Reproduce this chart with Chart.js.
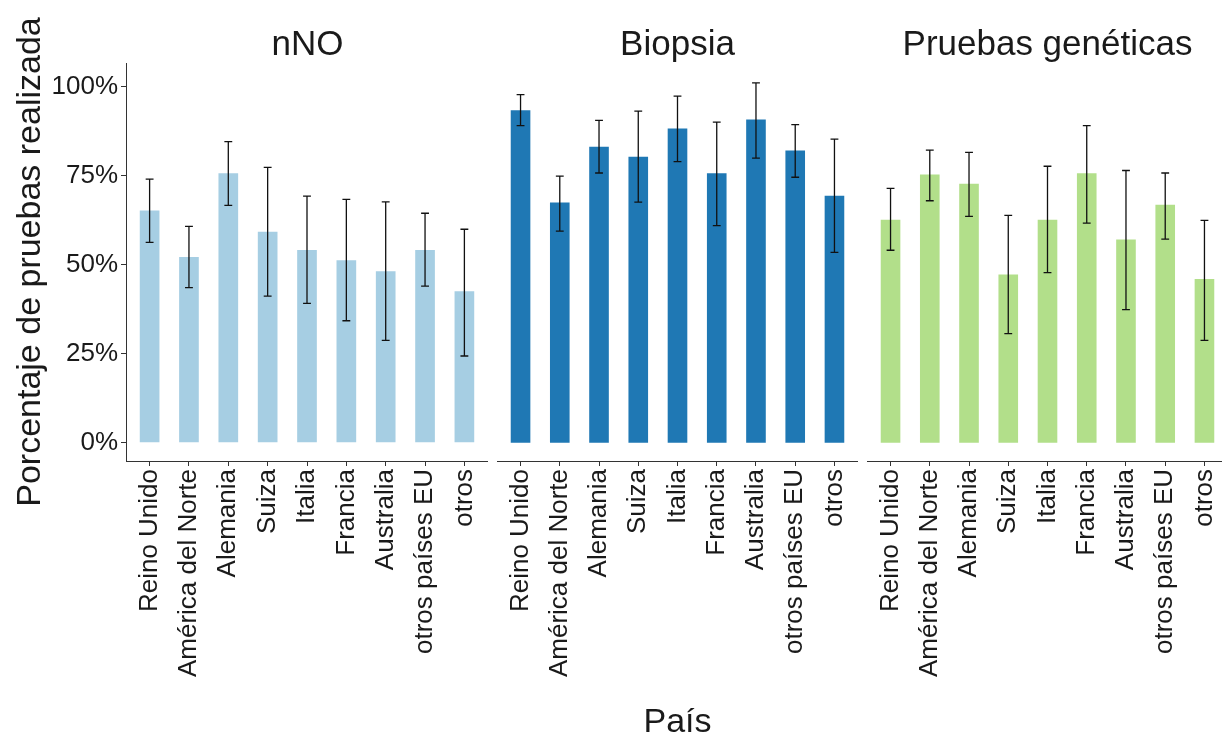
<!DOCTYPE html>
<html>
<head>
<meta charset="utf-8">
<script src="https://cdn.jsdelivr.net/npm/chart.js@4.4.1/dist/chart.umd.min.js"></script>
<style>
	html, body { margin: 0; padding: 0; background: #fff; }
	body { width: 1222px; height: 740px; position: relative; overflow: hidden; }
	.panel { position: absolute; top: 0; height: 740px; }
	.strip { position: absolute; top: 25px; width: 361px; text-align: center;
		font-family: 'Liberation Sans', Arial, sans-serif; font-size: 35px; line-height: 35px; color: #1a1a1a; }
</style>
</head>
<body>
<div class="panel" style="left:0; width:488px;"><canvas id="canvasNNO"></canvas></div>
<div class="panel" style="left:497px; width:361px;"><canvas id="canvasBiopsia"></canvas></div>
<div class="panel" style="left:867px; width:361px;"><canvas id="canvasGenetica"></canvas></div>
<div class="strip" style="left:127px;">nNO</div>
<div class="strip" style="left:497px;">Biopsia</div>
<div class="strip" style="left:867px;">Pruebas genéticas</div>

<script>
"use strict";

var categories = ['Reino Unido', 'América del Norte', 'Alemania', 'Suiza', 'Italia', 'Francia', 'Australia', 'otros países EU', 'otros'];
var yTicks = [0, 25, 50, 75, 100];

// nNO
var nnoValues = [65.3, 52.2, 75.7, 59.3, 54.2, 51.3, 48.2, 54.2, 42.6];
var nnoLow = [56.3, 43.6, 66.7, 41.2, 39.2, 34.3, 28.8, 44.0, 24.4];
var nnoHigh = [74.1, 60.8, 84.6, 77.4, 69.3, 68.4, 67.7, 64.5, 60.0];

// Biopsia
var biopsiaValues = [93.4, 67.5, 83.2, 80.4, 88.3, 75.7, 90.8, 82.1, 69.4];
var biopsiaLow = [89.1, 59.5, 75.8, 67.6, 79.0, 61.0, 80.0, 74.6, 53.5];
var biopsiaHigh = [97.8, 74.9, 90.6, 93.2, 97.4, 90.1, 101.1, 89.4, 85.3];

// Pruebas genéticas
var geneticaValues = [62.7, 75.4, 72.8, 47.3, 62.7, 75.7, 57.1, 66.9, 46.0];
var geneticaLow = [54.1, 68.0, 63.6, 30.7, 47.8, 61.7, 37.4, 57.2, 28.8];
var geneticaHigh = [71.5, 82.2, 81.6, 63.9, 77.7, 89.1, 76.5, 75.8, 62.5];

var fontFamily = "'Liberation Sans', Arial, sans-serif";
var textColor = '#1a1a1a';
var axisColor = '#333333';

// error bars drawn with the chart's own scales
var errorBarPlugin = {
	id: 'errorBars',
	afterDatasetsDraw: function (chart, args, opts) {
		var ctx = chart.ctx;
		var xs = chart.scales.x;
		var ys = chart.scales.y;
		ctx.save();
		ctx.strokeStyle = '#111';
		ctx.lineWidth = 1.3;
		for (var i = 0; i < opts.low.length; i++) {
			var x = xs.getPixelForValue(i);
			var half = xs.getPixelForValue(i + 0.1) - x;
			var yLo = ys.getPixelForValue(opts.low[i]);
			var yHi = ys.getPixelForValue(opts.high[i]);
			ctx.beginPath();
			ctx.moveTo(x, yLo); ctx.lineTo(x, yHi);
			ctx.moveTo(x - half, yLo); ctx.lineTo(x + half, yLo);
			ctx.moveTo(x - half, yHi); ctx.lineTo(x + half, yHi);
			ctx.stroke();
		}
		ctx.restore();
	}
};

function BuildPanel(canvasId, values, low, high, color, showY, xTitle) {
	var points = [];
	$each(values, function (v, i) { points.push({ x: i, y: v }); });

	return new Chart(document.getElementById(canvasId), {
		type: 'bar',
		data: {
			datasets: [{
				data: points,
				backgroundColor: color,
				borderWidth: 0,
				barPercentage: 0.5,
				categoryPercentage: 1.0
			}]
		},
		plugins: [errorBarPlugin],
		options: {
			responsive: true,
			maintainAspectRatio: false,
			animation: false,
			layout: { padding: { top: 63, right: 0, bottom: 0, left: 0 } },
			plugins: {
				legend: { display: false },
				tooltip: { enabled: false },
				errorBars: { low: low, high: high }
			},
			scales: {
				x: {
					type: 'linear',
					offset: false,
					min: -0.6,
					max: 8.6,
					afterBuildTicks: function (scale) {
						scale.ticks = categories.map(function (c, i) { return { value: i }; });
					},
					afterFit: function (scale) {
						scale.height = 279;
						scale.paddingLeft = 0;
						scale.paddingRight = 0;
					},
					ticks: {
						autoSkip: false,
						minRotation: 90,
						maxRotation: 90,
						padding: 3,
						color: textColor,
						font: { family: fontFamily, size: 26 },
						callback: function (value) { return categories[value]; }
					},
					grid: { display: true, offset: false, drawOnChartArea: false, drawTicks: true, tickLength: 5, color: axisColor },
					border: { display: true, color: axisColor, width: 1 },
					title: {
						display: !!xTitle,
						text: xTitle || '',
						color: textColor,
						padding: { top: 0, bottom: 0 },
						font: { family: fontFamily, size: 34, lineHeight: 1 }
					}
				},
				y: {
					display: showY,
					min: -5.1,
					max: 106.7,
					afterBuildTicks: function (scale) {
						scale.ticks = yTicks.map(function (t) { return { value: t }; });
					},
					afterFit: function (scale) {
						if (showY) scale.width = 126;
						scale.paddingTop = 0;
						scale.paddingBottom = 0;
					},
					ticks: {
						padding: 3,
						color: textColor,
						font: { family: fontFamily, size: 26 },
						callback: function (value) { return value + '%'; }
					},
					grid: { display: true, drawOnChartArea: false, drawTicks: true, tickLength: 5, color: axisColor },
					border: { display: true, color: axisColor, width: 1 },
					title: {
						display: showY,
						text: 'Porcentaje de pruebas realizada',
						color: textColor,
						padding: { top: 14, bottom: 0 },
						font: { family: fontFamily, size: 34, lineHeight: 1 }
					}
				}
			}
		}
	});
}

function $each(arr, fn) {
	for (var i = 0; i < arr.length; i++) fn(arr[i], i);
}

BuildPanel('canvasNNO', nnoValues, nnoLow, nnoHigh, '#A6CEE3', true, null);
BuildPanel('canvasBiopsia', biopsiaValues, biopsiaLow, biopsiaHigh, '#1F78B4', false, 'País');
BuildPanel('canvasGenetica', geneticaValues, geneticaLow, geneticaHigh, '#B2DF8A', false, null);
</script>
</body>
</html>
